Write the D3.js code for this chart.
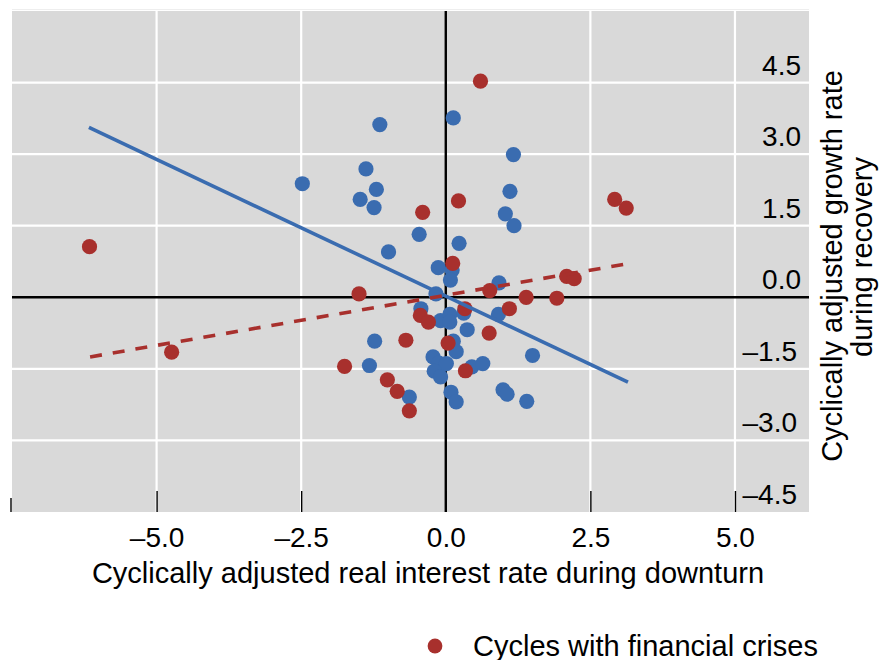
<!DOCTYPE html>
<html>
<head>
<meta charset="utf-8">
<script src="https://cdn.jsdelivr.net/npm/d3@7"></script>
<style>
  html, body { margin: 0; padding: 0; background: #ffffff; }
  svg { display: block; }
  text { font-family: "Liberation Sans", Arial, Helvetica, sans-serif; fill: #000; }
</style>
</head>
<body>
<svg id="chart" width="883" height="660"></svg>
<script>
// ---- Data ----
const blueX = [-1.14, -2.48, -1.38, -1.20, -1.48, -1.24, -0.46, -0.99, -0.13, 0.13,
               1.17, 1.11, 1.03, 1.18, 0.23, 0.11, 0.08, 0.92, -0.17, -0.43,
               -0.09, 0.07, 0.07, 0.31, 0.91, 0.37, -1.23, 0.13, 0.18, 1.50,
               -1.32, -0.22, -0.12, 0.01, -0.20, -0.09, 0.45, 0.64, -0.63, 0.09,
               0.18, 0.99, 1.06, 1.40];
const blueY = [3.62, 2.38, 2.69, 2.26, 2.05, 1.88, 1.32, 0.95, 0.62, 3.76,
               2.99, 2.22, 1.75, 1.50, 1.13, 0.57, 0.36, 0.30, 0.07, -0.24,
               -0.49, -0.36, -0.52, -0.33, -0.36, -0.68, -0.92, -0.92, -1.14, -1.22,
               -1.43, -1.25, -1.38, -1.39, -1.55, -1.67, -1.46, -1.39, -2.09, -1.99,
               -2.19, -1.94, -2.03, -2.18];
const redX = [-0.40, -6.16, -1.50, 0.60, 0.22, 2.92, 3.12, 0.12, 2.09, 2.22,
              0.76, 1.39, 1.92, -0.44, -0.30, 0.33, 1.10, 0.75, -0.69, 0.04,
              0.34, -1.01, -0.84, -0.63, -4.74, -1.75];
const redY = [1.78, 1.06, 0.07, 4.53, 2.02, 2.05, 1.87, 0.71, 0.44, 0.39,
              0.14, 0.00, -0.02, -0.38, -0.52, -0.24, -0.24, -0.75, -0.90, -0.96,
              -1.54, -1.73, -1.97, -2.38, -1.15, -1.45];
// Fitted lines (endpoints)
const blueFitX = [-6.17, 3.15];
const blueFitY = [3.56, -1.78];
const redFitX = [-6.15, 3.13];
const redFitY = [-1.25, 0.70];

const xTicks = [-5, -2.5, 0, 2.5, 5];
const xTickLabels = ["\u20135.0", "\u20132.5", "0.0", "2.5", "5.0"];
const yTicks = [-4.5, -3, -1.5, 0, 1.5, 3, 4.5];
const yTickLabels = ["\u20134.5", "\u20133.0", "\u20131.5", "0.0", "1.5", "3.0", "4.5"];
const xGrid = [-5, -2.5, 2.5, 5];
const yGrid = [-3, -1.5, 1.5, 3, 4.5];
const bottomTicks = [-7.5, -5, -2.5, 0, 2.5, 5];

const xTitle = "Cyclically adjusted real interest rate during downturn";
const yTitle1 = "Cyclically adjusted growth rate";
const yTitle2 = "during recovery";
const legendLabel = "Cycles with financial crises";

// ---- Layout ----
const BLUE = "#3a6cb0";
const RED = "#a8302d";
const svg = d3.select("#chart");
const pLeft = 12, pRight = 809, pTop = 11, pBottom = 512;

const x = d3.scaleLinear().domain([-7.5, 6.28]).range([pLeft, pRight]);
const y = d3.scaleLinear().domain([-4.5, 6]).range([pBottom, pTop]);

// Plot background
svg.append("rect")
  .attr("x", pLeft).attr("y", pTop)
  .attr("width", pRight - pLeft).attr("height", pBottom - pTop)
  .attr("fill", "#d9d9d9");
svg.append("line")
  .attr("x1", pLeft).attr("x2", pRight).attr("y1", pTop - 1.5).attr("y2", pTop - 1.5)
  .attr("stroke", "#eeeeee").attr("stroke-width", 1);

// Grid lines
svg.append("g").selectAll("line").data(xGrid).join("line")
  .attr("x1", d => x(d)).attr("x2", d => x(d))
  .attr("y1", pTop).attr("y2", pBottom)
  .attr("stroke", "#ffffff").attr("stroke-width", 2.2);
svg.append("g").selectAll("line").data(yGrid).join("line")
  .attr("x1", pLeft - 1).attr("x2", pRight + 1)
  .attr("y1", d => y(d)).attr("y2", d => y(d))
  .attr("stroke", "#ffffff").attr("stroke-width", 2.2);

// Zero axes
svg.append("line")
  .attr("x1", pLeft).attr("x2", pRight).attr("y1", y(0)).attr("y2", y(0))
  .attr("stroke", "#000").attr("stroke-width", 2.4);
svg.append("line")
  .attr("x1", x(0)).attr("x2", x(0)).attr("y1", pTop).attr("y2", pBottom)
  .attr("stroke", "#000").attr("stroke-width", 2.4);

// Bottom x axis: inward ticks and labels
const xAxis = d3.axisBottom(x)
  .tickValues(xTicks)
  .tickSize(-21)
  .tickPadding(15)
  .tickFormat((d, i) => xTickLabels[i]);
const gx = svg.append("g").attr("transform", `translate(0,${pBottom})`).call(xAxis);
gx.select(".domain").remove();
gx.selectAll(".tick line").attr("stroke", "#000").attr("stroke-width", 1.4);
gx.selectAll("text").attr("font-size", 28).attr("fill", "#000")
  .style("font-family", '"Liberation Sans", Arial, sans-serif');
// extra edge tick at the left border
svg.append("g").selectAll("line").data(bottomTicks.filter(d => !xTicks.includes(d))).join("line")
  .attr("x1", d => x(d) - 1).attr("x2", d => x(d) - 1)
  .attr("y1", pBottom - 14).attr("y2", pBottom)
  .attr("stroke", "#000").attr("stroke-width", 1.4);

// Right y axis labels inside the plot
const yAxis = d3.axisRight(y)
  .tickValues(yTicks)
  .tickSize(0)
  .tickPadding(0)
  .tickFormat((d, i) => yTickLabels[i]);
const gy = svg.append("g").attr("transform", `translate(801,0)`).call(yAxis);
gy.select(".domain").remove();
gy.selectAll(".tick line").remove();
gy.selectAll("text")
  .attr("text-anchor", "end")
  .attr("x", d => d < 0 ? -4 : 0)
  .attr("dy", null)
  .attr("y", -8.5)
  .attr("font-size", 28).attr("fill", "#000")
  .style("font-family", '"Liberation Sans", Arial, sans-serif');

// Points
const blue = blueX.map((v, i) => ({x: v, y: blueY[i]}));
const red = redX.map((v, i) => ({x: v, y: redY[i]}));
svg.append("g").selectAll("circle").data(blue).join("circle")
  .attr("cx", d => x(d.x)).attr("cy", d => y(d.y)).attr("r", 7.6)
  .attr("fill", BLUE);
svg.append("g").selectAll("circle").data(red).join("circle")
  .attr("cx", d => x(d.x)).attr("cy", d => y(d.y)).attr("r", 7.6)
  .attr("fill", RED);

// Fit lines
const line = d3.line().x(d => x(d[0])).y(d => y(d[1]));
svg.append("path")
  .datum(blueFitX.map((v, i) => [v, blueFitY[i]]))
  .attr("d", line).attr("fill", "none")
  .attr("stroke", BLUE).attr("stroke-width", 3.6);
svg.append("path")
  .datum(redFitX.map((v, i) => [v, redFitY[i]]))
  .attr("d", line).attr("fill", "none")
  .attr("stroke", RED).attr("stroke-width", 3.6)
  .attr("stroke-dasharray", "12,11");

// Axis titles
svg.append("text")
  .attr("x", 428).attr("y", 582.5)
  .attr("text-anchor", "middle").attr("font-size", 29)
  .text(xTitle);
svg.append("text")
  .attr("transform", "translate(842,266) rotate(-90)")
  .attr("text-anchor", "middle").attr("font-size", 29)
  .text(yTitle1);
svg.append("text")
  .attr("transform", "translate(872,257) rotate(-90)")
  .attr("text-anchor", "middle").attr("font-size", 29)
  .text(yTitle2);

// Legend
const leg = svg.append("g").attr("transform", "translate(435,646)");
leg.append("circle").attr("r", 7.4).attr("fill", RED);
leg.append("text").attr("x", 38).attr("y", 9.5).attr("font-size", 29).text(legendLabel);
</script>
</body>
</html>
